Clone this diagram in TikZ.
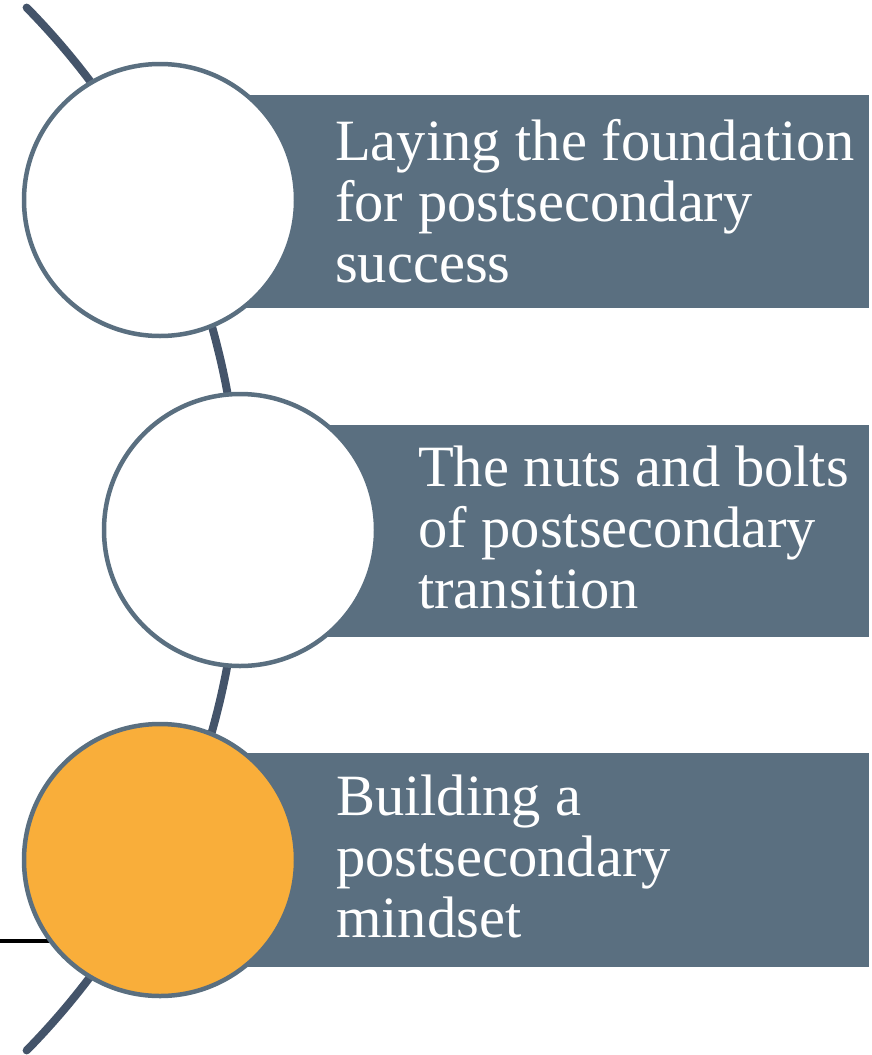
\documentclass[tikz,border=0pt]{standalone}
\usepackage{fontspec}
\setmainfont{Liberation Serif}
\definecolor{slate}{HTML}{5A6F80}
\definecolor{spine}{HTML}{44546A}
\definecolor{amber}{HTML}{F9AE3A}
\tikzset{
  band/.style={fill=slate, draw=none},
  disc/.style={circle, draw=slate, line width=4.5pt, minimum size=272pt, inner sep=0pt, fill=white},
  label/.style={anchor=base west, align=left, text=white, inner sep=0pt,
    font=\fontsize{58.5}{61}\selectfont},
}
\begin{document}
\begin{tikzpicture}[x=1pt, y=1pt]
  \useasboundingbox (0,0) rectangle (871,-1055);
  % curved spine behind the discs
  \draw[spine, line width=8pt, line cap=round]
    (-504,-529) ++(44.5:744) arc[start angle=44.5, end angle=-44.5, radius=744];
  % coloured bands
  \fill[slate] (160,-95) rectangle (869,-308);
  \fill[slate] (240,-425) rectangle (869,-637);
  \fill[slate] (160,-753) rectangle (869,-967);
  % marker line
  \coordinate (m) at (0,-941);
  \draw[black, line width=3.5pt] (m) -- (70,-941);
  % discs
  \node[disc] (c1) at (160,-200) {};
  \node[disc] (c2) at (240,-530) {};
  \node[disc, fill=amber] (c3) at (160,-860) {};
  % texts (anchored at the baseline of the last line)
  \node[label] (t1) at (335,-282) {Laying the foundation\\for postsecondary\\success};
  \node[label] (t2) at (418,-608) {The nuts and bolts\\of postsecondary\\transition};
  \node[label] (t3) at (336,-937) {Building a\\postsecondary\\mindset};
\end{tikzpicture}
\end{document}
